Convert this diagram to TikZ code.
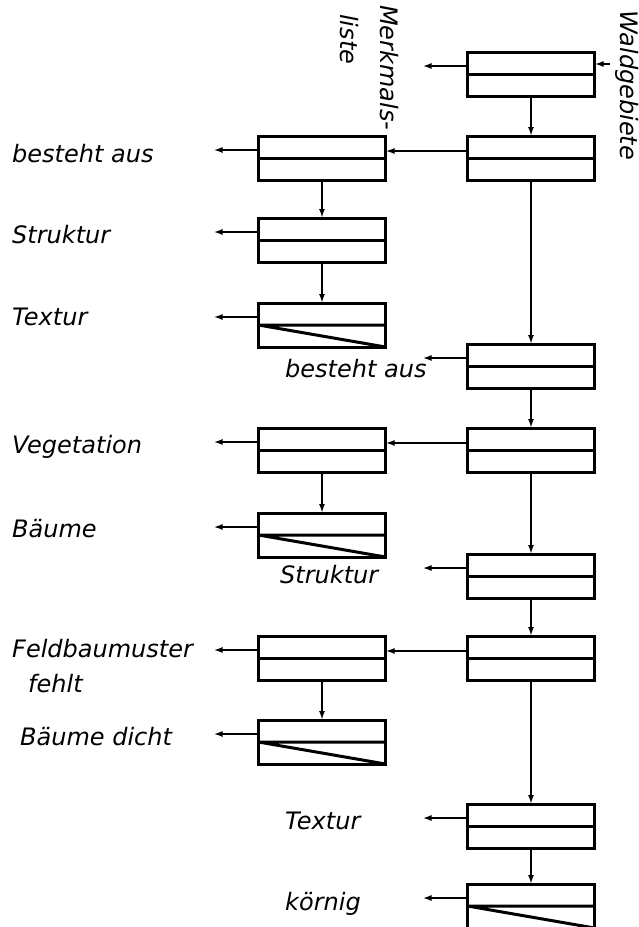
\documentclass[tikz,border=0pt]{standalone}
\usepackage{fontspec}
\setmainfont{DejaVu Sans}
\usetikzlibrary{arrows.meta,positioning}

\begin{document}
\begin{tikzpicture}[
  x=1pt, y=-1pt,
  feld/.style={draw, line width=3pt, minimum width=127pt, minimum height=44pt,
    inner sep=0pt, outer sep=0pt,
    path picture={\draw[line width=3pt] (path picture bounding box.west) -- (path picture bounding box.east);}},
  feldz/.style={feld,
    path picture={\draw[line width=3pt] (path picture bounding box.west) -- (path picture bounding box.east)
      (path picture bounding box.west) -- (path picture bounding box.south east);}},
  lab/.style={font=\fontsize{24}{28}\selectfont\itshape, inner sep=0pt, anchor=base west},
  arr/.style={-{Latex[length=9pt,width=6pt]}, line width=2pt}
]
  \useasboundingbox (0,0) rectangle (638,927);

  % Hauptkette
  \node[feld] (r1) at (531,74) {};
  \node[feld, below=40pt of r1] (r2) {};
  \node[feld, below=164pt of r2] (r3) {};
  \node[feld, below=40pt of r3] (r4) {};
  \node[feld, below=82pt of r4] (r5) {};
  \node[feld, below=38pt of r5] (r6) {};
  \node[feld, below=124pt of r6] (r7) {};
  \node[feldz, below=36pt of r7] (r8) {};

  % Nebenketten
  \node[feld, left=82pt of r2] (l1) {};
  \node[feld, below=38pt of l1] (l2) {};
  \node[feldz, below=41pt of l2] (l3) {};
  \node[feld, left=82pt of r4] (l4) {};
  \node[feldz, below=41pt of l4] (l5) {};
  \node[feld, left=82pt of r6] (l6) {};
  \node[feldz, below=40pt of l6] (l7) {};

  \draw[arr] (r1) -- (r2);
  \draw[arr] (r2) -- (r3);
  \draw[arr] (r3) -- (r4);
  \draw[arr] (r4) -- (r5);
  \draw[arr] (r5) -- (r6);
  \draw[arr] (r6) -- (r7);
  \draw[arr] (r7) -- (r8);
  \draw[arr] (l1) -- (l2);
  \draw[arr] (l2) -- (l3);
  \draw[arr] (l4) -- (l5);
  \draw[arr] (l6) -- (l7);

  \draw[arr] ([yshift=7pt]r2.west) -- ([yshift=7pt]r2.west -| l1.east);
  \draw[arr] ([yshift=7pt]r4.west) -- ([yshift=7pt]r4.west -| l4.east);
  \draw[arr] ([yshift=7pt]r6.west) -- ([yshift=7pt]r6.west -| l6.east);

  % Ausgaenge
  \coordinate (r1-aus) at ([xshift=-45pt,yshift=8pt]r1.west);
  \coordinate (r3-aus) at ([xshift=-45pt,yshift=8pt]r3.west);
  \coordinate (r5-aus) at ([xshift=-45pt,yshift=8pt]r5.west);
  \coordinate (r7-aus) at ([xshift=-45pt,yshift=8pt]r7.west);
  \coordinate (r8-aus) at ([xshift=-45pt,yshift=8pt]r8.west);
  \coordinate (l1-aus) at ([xshift=-45pt,yshift=8pt]l1.west);
  \coordinate (l2-aus) at ([xshift=-45pt,yshift=8pt]l2.west);
  \coordinate (l3-aus) at ([xshift=-45pt,yshift=8pt]l3.west);
  \coordinate (l4-aus) at ([xshift=-45pt,yshift=8pt]l4.west);
  \coordinate (l5-aus) at ([xshift=-45pt,yshift=8pt]l5.west);
  \coordinate (l6-aus) at ([xshift=-45pt,yshift=8pt]l6.west);
  \coordinate (l7-aus) at ([xshift=-45pt,yshift=8pt]l7.west);
  \draw[arr] ([yshift=8pt]r1.west) -- (r1-aus);
  \draw[arr] ([yshift=8pt]r3.west) -- (r3-aus);
  \draw[arr] ([yshift=8pt]r5.west) -- (r5-aus);
  \draw[arr] ([yshift=8pt]r7.west) -- (r7-aus);
  \draw[arr] ([yshift=8pt]r8.west) -- (r8-aus);
  \draw[arr] ([yshift=8pt]l1.west) -- (l1-aus);
  \draw[arr] ([yshift=8pt]l2.west) -- (l2-aus);
  \draw[arr] ([yshift=8pt]l3.west) -- (l3-aus);
  \draw[arr] ([yshift=8pt]l4.west) -- (l4-aus);
  \draw[arr] ([yshift=8pt]l5.west) -- (l5-aus);
  \draw[arr] ([yshift=8pt]l6.west) -- (l6-aus);
  \draw[arr] ([yshift=8pt]l7.west) -- (l7-aus);

  % Eingang
  \node[lab, rotate=-90] (wald) at (620,10) {Waldgebiete};
  \coordinate (wald-ein) at ([xshift=15pt,yshift=10pt]r1.east);
  \draw[arr] (wald-ein) -- ([yshift=10pt]r1.east);

  \node[lab, rotate=-90] (merk) at (380,5) {Merkmals-};
  \node[lab, rotate=-90] (liste) at (340,14) {liste};

  % Beschriftung
  \node[lab] (t-l1) at (12,162) {besteht aus};
  \node[lab] (t-l2) at (12,243) {Struktur};
  \node[lab] (t-l3) at (12,325) {Textur};
  \node[lab] (t-l4) at (12,453) {Vegetation};
  \node[lab] (t-l5) at (12,537) {Bäume};
  \node[lab] (t-l6) at (12,657) {Feldbaumuster};
  \node[lab] (t-l6b) at (28,692) {fehlt};
  \node[lab] (t-l7) at (20,745) {Bäume dicht};
  \node[lab] (t-r3) at (285,377) {besteht aus};
  \node[lab] (t-r5) at (280,583) {Struktur};
  \node[lab] (t-r7) at (285,829) {Textur};
  \node[lab] (t-r8) at (285,910) {körnig};
\end{tikzpicture}
\end{document}
